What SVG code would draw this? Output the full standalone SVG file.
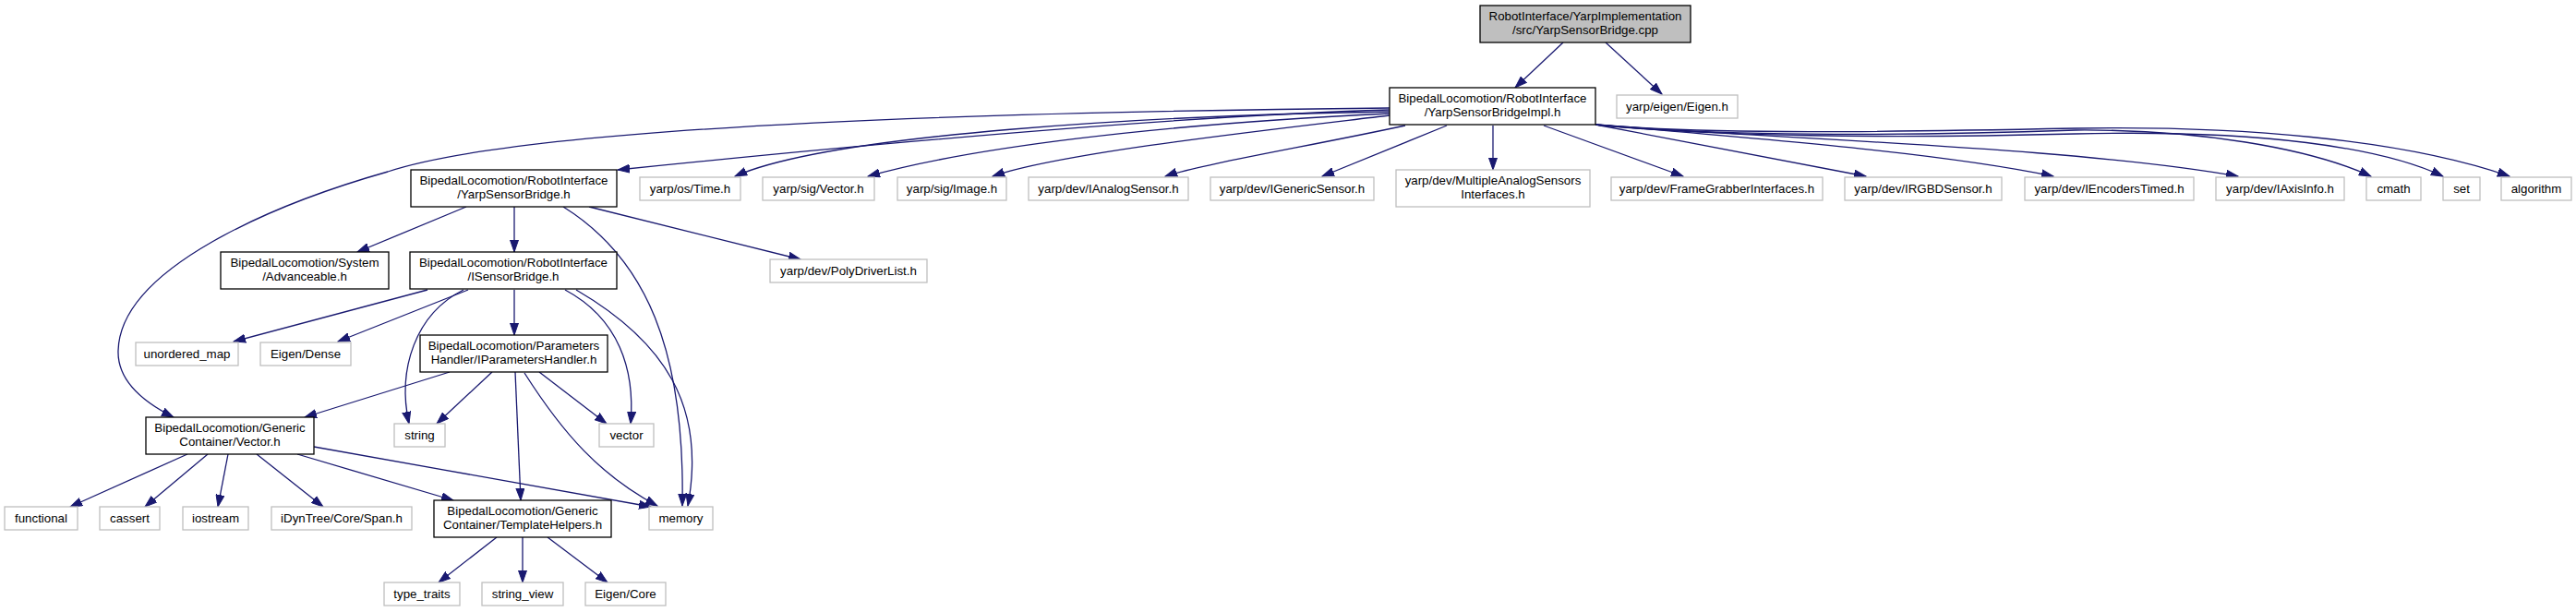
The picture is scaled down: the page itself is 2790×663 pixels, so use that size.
<svg xmlns="http://www.w3.org/2000/svg" width="2790" height="663" viewBox="0 0 2790 663">
<defs>
<style>
.n rect{fill:#ffffff;stroke:#000000;stroke-width:1.3}
.x rect{fill:#ffffff;stroke:#bfbfbf;stroke-width:1.3}
.r rect{fill:#bfbfbf;stroke:#000000;stroke-width:1.3}
text{font-family:"Liberation Sans",Arial,sans-serif;font-size:13.3px;fill:#000000;text-anchor:middle}
.e path{fill:none;stroke:#191970;stroke-width:1.3;marker-end:url(#ah)}
</style>
<marker id="ah" markerUnits="userSpaceOnUse" markerWidth="14" markerHeight="10" refX="13" refY="5" orient="auto">
<path d="M0,0.5 L13,5 L0,9.5 z" fill="#191970" stroke="#191970" stroke-width="1"/>
</marker>
</defs>
<rect width="2790" height="663" fill="#ffffff"/>
<g class="e" id="edges">
<path d="M1693,46 L1641,95"/>
<path d="M1739,46 L1800,102"/>
<path d="M1505,117 C1000,122 560,140 420,186 C300,220 130,290 128,380 C127,415 160,438 188,452"/>
<path d="M1505,119 C1300,125 1000,150 669,184"/>
<path d="M1505,121 C1250,125 900,145 796,191"/>
<path d="M1505,123 C1250,135 1050,160 940,191"/>
<path d="M1505,125 C1380,140 1150,165 1075,191"/>
<path d="M1522,136 C1420,158 1300,178 1262,191"/>
<path d="M1567,136 L1432,191"/>
<path d="M1617,136 L1617,184"/>
<path d="M1672,136 L1823,191"/>
<path d="M1728,135 L2021,191"/>
<path d="M1728,135 C1900,150 2100,165 2224,191"/>
<path d="M1728,135 C1950,152 2250,160 2424,191"/>
<path d="M1728,135 C1850,147 2050,148 2248,141 C2380,140 2500,160 2568,191"/>
<path d="M1728,135 C1850,148 2050,150 2248,145 C2450,140 2580,160 2646,191"/>
<path d="M1728,135 C1850,146 2050,143 2248,139 C2420,136 2600,150 2718,191"/>
<path d="M505,224 L387,273"/>
<path d="M557,224 L557,273"/>
<path d="M638,224 L867,281"/>
<path d="M610,224 C700,280 742,380 739,548"/>
<path d="M463,314 L253,370"/>
<path d="M507,314 L366,370"/>
<path d="M557,314 L557,363"/>
<path d="M502,314 C450,340 430,400 443,459"/>
<path d="M612,314 C670,345 688,400 683,459"/>
<path d="M624,314 C720,370 765,440 745,548"/>
<path d="M487,403 L330,452"/>
<path d="M533,403 L473,459"/>
<path d="M558,403 L564,542"/>
<path d="M568,404 C610,470 650,515 712,548"/>
<path d="M584,403 L657,459"/>
<path d="M203,492 L76,549"/>
<path d="M225,492 L157,549"/>
<path d="M247,492 L236,549"/>
<path d="M278,492 L350,549"/>
<path d="M322,492 L491,542"/>
<path d="M340,484 L705,549"/>
<path d="M538,582 L475,631"/>
<path d="M566,582 L566,631"/>
<path d="M593,582 L658,631"/>
</g>
<g id="root" class="r"><rect x="1603" y="6" width="228" height="40"/><text x="1717" y="22">RobotInterface/YarpImplementation</text><text x="1717" y="37">/src/YarpSensorBridge.cpp</text></g>
<g id="impl" class="n"><rect x="1505" y="95" width="223" height="40"/><text x="1616.5" y="111">BipedalLocomotion/RobotInterface</text><text x="1616.5" y="126">/YarpSensorBridgeImpl.h</text></g>
<g id="eigenh" class="x"><rect x="1751" y="103" width="131" height="25"/><text x="1816.5" y="120">yarp/eigen/Eigen.h</text></g>
<g id="ysb" class="n"><rect x="445" y="184" width="223" height="40"/><text x="556.5" y="200">BipedalLocomotion/RobotInterface</text><text x="556.5" y="215">/YarpSensorBridge.h</text></g>
<g id="time" class="x"><rect x="693" y="192" width="109" height="25"/><text x="747.5" y="209">yarp/os/Time.h</text></g>
<g id="sigvector" class="x"><rect x="826" y="192" width="121" height="25"/><text x="886.5" y="209">yarp/sig/Vector.h</text></g>
<g id="image" class="x"><rect x="972" y="192" width="118" height="25"/><text x="1031" y="209">yarp/sig/Image.h</text></g>
<g id="ianalog" class="x"><rect x="1114" y="192" width="173" height="25"/><text x="1200.5" y="209">yarp/dev/IAnalogSensor.h</text></g>
<g id="igeneric" class="x"><rect x="1311" y="192" width="177" height="25"/><text x="1399.5" y="209">yarp/dev/IGenericSensor.h</text></g>
<g id="multiple" class="x"><rect x="1512" y="184" width="210" height="40"/><text x="1617" y="200">yarp/dev/MultipleAnalogSensors</text><text x="1617" y="215">Interfaces.h</text></g>
<g id="framegrabber" class="x"><rect x="1745" y="192" width="229" height="25"/><text x="1859.5" y="209">yarp/dev/FrameGrabberInterfaces.h</text></g>
<g id="irgbd" class="x"><rect x="1998" y="192" width="170" height="25"/><text x="2083" y="209">yarp/dev/IRGBDSensor.h</text></g>
<g id="iencoders" class="x"><rect x="2193" y="192" width="183" height="25"/><text x="2284.5" y="209">yarp/dev/IEncodersTimed.h</text></g>
<g id="iaxis" class="x"><rect x="2400" y="192" width="139" height="25"/><text x="2469.5" y="209">yarp/dev/IAxisInfo.h</text></g>
<g id="cmath" class="x"><rect x="2563" y="192" width="59" height="25"/><text x="2592.5" y="209">cmath</text></g>
<g id="set" class="x"><rect x="2646" y="192" width="40" height="25"/><text x="2666" y="209">set</text></g>
<g id="algorithm" class="x"><rect x="2709" y="192" width="76" height="25"/><text x="2747" y="209">algorithm</text></g>
<g id="advanceable" class="n"><rect x="239" y="273" width="182" height="40"/><text x="330" y="289">BipedalLocomotion/System</text><text x="330" y="304">/Advanceable.h</text></g>
<g id="isensorbridge" class="n"><rect x="444" y="273" width="224" height="40"/><text x="556" y="289">BipedalLocomotion/RobotInterface</text><text x="556" y="304">/ISensorBridge.h</text></g>
<g id="polydriver" class="x"><rect x="834" y="281" width="170" height="25"/><text x="919" y="298">yarp/dev/PolyDriverList.h</text></g>
<g id="unordered" class="x"><rect x="147" y="371" width="111" height="25"/><text x="202.5" y="388">unordered_map</text></g>
<g id="eigendense" class="x"><rect x="282" y="371" width="98" height="25"/><text x="331" y="388">Eigen/Dense</text></g>
<g id="iparams" class="n"><rect x="455" y="363" width="203" height="40"/><text x="556.5" y="379">BipedalLocomotion/Parameters</text><text x="556.5" y="394">Handler/IParametersHandler.h</text></g>
<g id="gcvector" class="n"><rect x="158" y="452" width="182" height="40"/><text x="249" y="468">BipedalLocomotion/Generic</text><text x="249" y="483">Container/Vector.h</text></g>
<g id="string" class="x"><rect x="427" y="459" width="55" height="25"/><text x="454.5" y="476">string</text></g>
<g id="vector" class="x"><rect x="649" y="459" width="59" height="25"/><text x="678.5" y="476">vector</text></g>
<g id="functional" class="x"><rect x="5" y="549" width="79" height="25"/><text x="44.5" y="566">functional</text></g>
<g id="cassert" class="x"><rect x="108" y="549" width="65" height="25"/><text x="140.5" y="566">cassert</text></g>
<g id="iostream" class="x"><rect x="198" y="549" width="71" height="25"/><text x="233.5" y="566">iostream</text></g>
<g id="span" class="x"><rect x="294" y="549" width="152" height="25"/><text x="370" y="566">iDynTree/Core/Span.h</text></g>
<g id="templatehelpers" class="n"><rect x="470" y="542" width="192" height="40"/><text x="566" y="558">BipedalLocomotion/Generic</text><text x="566" y="573">Container/TemplateHelpers.h</text></g>
<g id="memory" class="x"><rect x="703" y="549" width="69" height="25"/><text x="737.5" y="566">memory</text></g>
<g id="typetraits" class="x"><rect x="416" y="631" width="82" height="25"/><text x="457" y="648">type_traits</text></g>
<g id="stringview" class="x"><rect x="522" y="631" width="88" height="25"/><text x="566" y="648">string_view</text></g>
<g id="eigencore" class="x"><rect x="634" y="631" width="87" height="25"/><text x="677.5" y="648">Eigen/Core</text></g>
</svg>
